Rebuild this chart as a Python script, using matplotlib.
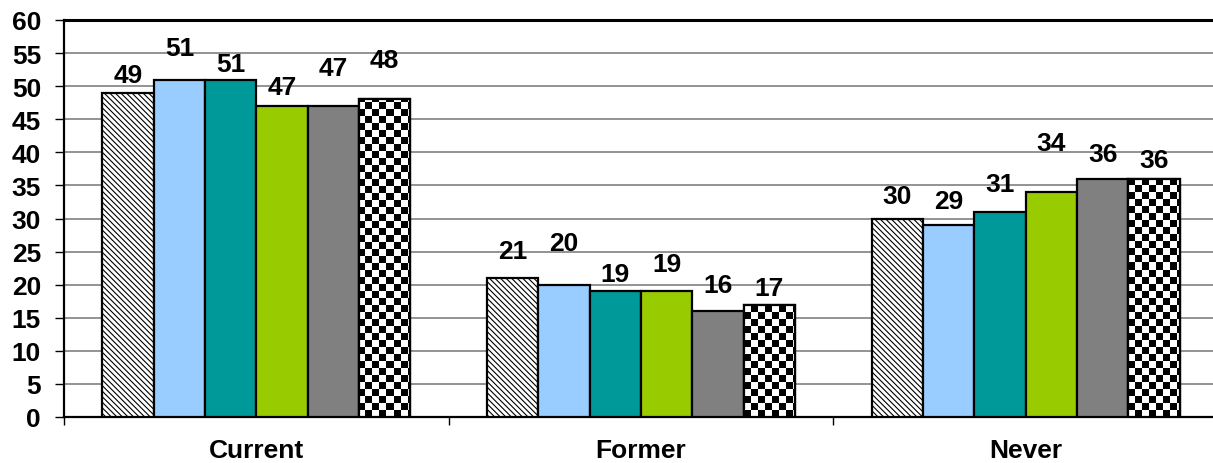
import numpy as np
import matplotlib.pyplot as plt
from matplotlib.patches import Rectangle

plt.rcParams['font.family'] = ['Liberation Sans', 'DejaVu Sans']
plt.rcParams['font.weight'] = 'bold'
plt.rcParams['hatch.linewidth'] = 0.8

categories = ['Current', 'Former', 'Never']
series = [
    [49, 21, 30],
    [51, 20, 29],
    [51, 19, 31],
    [47, 19, 34],
    [47, 16, 36],
    [48, 17, 36],
]
# label lift above each bar top, in pixels
label_lift = [
    [18, 27, 22],
    [32, 42, 24],
    [16, 17, 28],
    [19, 27, 49],
    [38, 26, 25],
    [39, 17, 19],
]
colors = ['white', '#99CCFF', '#009999', '#99CC00', '#808080', 'white']
hatches = ['\\' * 6, None, None, None, None, None]

W, H = 1213, 464
left, top, bottom, right = 64, 21, 418, 1218
fig = plt.figure(figsize=(W / 100, H / 100), dpi=100)
ax = fig.add_axes([left / W, 1 - bottom / H, (right - left) / W, (bottom - top) / H])

n = len(series)
group = 0.8
w = group / n
x = np.arange(len(categories)) + 0.5

ax.set_xlim(0, 3)
ax.set_ylim(0, 60)

# checkerboard image used as the fill of the last series, on a pixel grid
sq = 7
nx = (right - left) // sq + 1
ny = (bottom - top) // sq + 1
checker = (np.indices((ny, nx)).sum(axis=0) % 2).astype(float)
ext = [0, nx * sq / (right - left) * 3, 0, ny * sq / (bottom - top) * 60]

for i, vals in enumerate(series):
    xs = x - group / 2 + w * (i + 0.5)
    bars = ax.bar(xs, vals, width=w, color=colors[i], edgecolor='black',
                  linewidth=1.6, hatch=hatches[i], zorder=3)
    for b, v, lift in zip(bars, vals, label_lift[i]):
        if i == n - 1:
            im = ax.imshow(checker, cmap='gray_r', extent=ext, origin='lower',
                           interpolation='nearest', aspect='auto', zorder=3.5)
            im.set_clip_path(b)
            ax.add_patch(Rectangle(b.get_xy(), b.get_width(), b.get_height(),
                                   fill=False, edgecolor='black', linewidth=1.6,
                                   zorder=4))
        ax.annotate(str(v), (b.get_x() + b.get_width() / 2, v),
                    xytext=(0, lift), textcoords='offset pixels',
                    ha='center', va='center', fontsize=19, fontweight='bold')

ax.set_xlim(0, 3)
ax.set_ylim(0, 60)

ax.set_yticks(range(0, 61, 5))
ax.yaxis.grid(True, color='#808080', linewidth=1.2)
ax.set_axisbelow(True)
ax.tick_params(axis='y', length=6.5, width=1, pad=10, labelsize=19)

ax.set_xticks([0, 1, 2, 3])
ax.set_xticklabels([])
ax.set_xticks(x, minor=True)
ax.set_xticklabels(categories, minor=True, fontsize=19, fontweight='bold')
ax.tick_params(axis='x', which='major', length=6, width=1)
ax.tick_params(axis='x', which='minor', length=0, pad=15)

for side in ['left', 'top', 'bottom']:
    ax.spines[side].set_linewidth(1.6)
    ax.spines[side].set_color('black')
ax.spines['top'].set_linewidth(2.2)
ax.spines['right'].set_visible(False)

fig.savefig('out.png', dpi=100)
